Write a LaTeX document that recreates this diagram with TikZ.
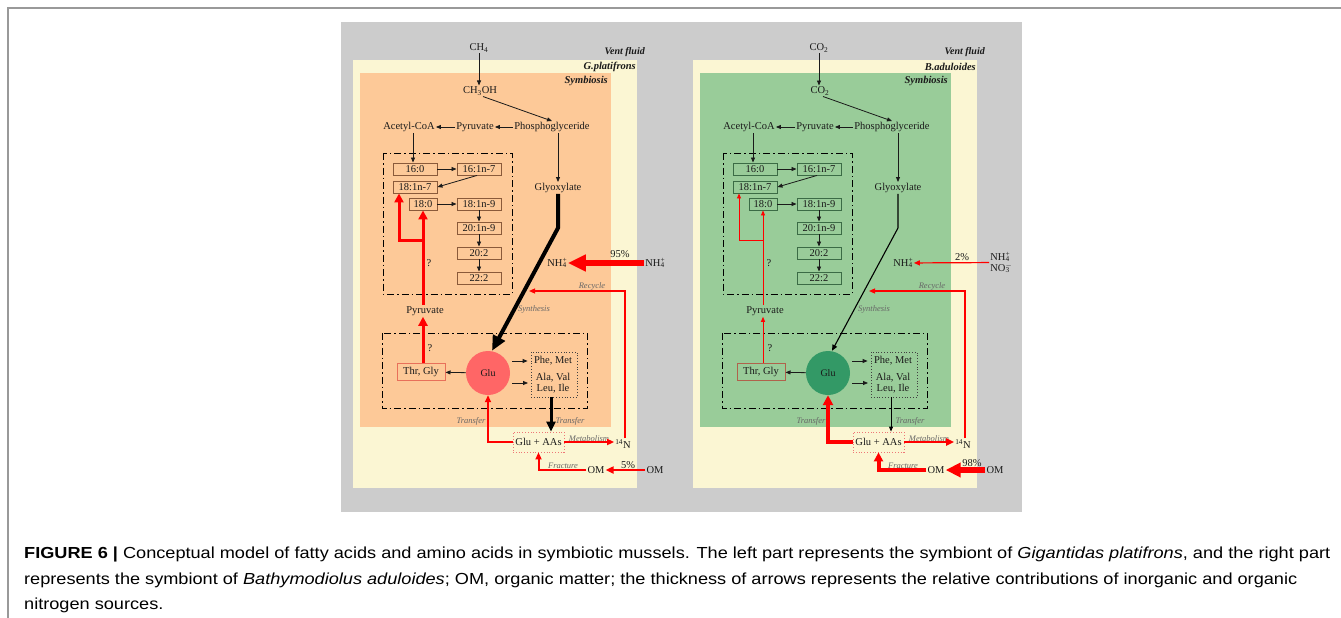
\documentclass[tikz,border=0pt]{standalone}
\usepackage{fontspec}
\setmainfont{Liberation Serif}
\newfontfamily\capfont{Liberation Sans}
\usepackage{graphicx}
\usetikzlibrary{arrows.meta,calc}
\definecolor{bgc}{HTML}{CCCCCC}
\definecolor{creamc}{HTML}{FBF6D3}
\definecolor{orangec}{HTML}{FDC998}
\definecolor{greenc}{HTML}{99CC99}
\definecolor{glured}{HTML}{FF6666}
\definecolor{glugreen}{HTML}{339966}
\definecolor{redc}{HTML}{FF0000}
\definecolor{brownc}{HTML}{8A5A3A}
\definecolor{dgreenc}{HTML}{3B6B45}
\definecolor{thrl}{HTML}{E8705A}
\definecolor{thrr}{HTML}{B0624C}
\definecolor{labc}{HTML}{666666}
\definecolor{gaac}{HTML}{EE7777}
\definecolor{framec}{HTML}{999999}
\definecolor{txtc}{HTML}{1A1A1A}
\definecolor{capc}{HTML}{222222}
\newcommand\fsz[1]{\fontsize{#1}{#1}\selectfont}
\newcommand\nhf{NH\rlap{\textsuperscript{+}}\textsubscript{4}}
\newcommand\nof{NO\rlap{\textsuperscript{$-$}}\textsubscript{3}}
\newsavebox\capA
\newsavebox\capB
\newsavebox\capC
\newdimen\capw
\tikzset{
 txt/.style={inner sep=1pt, text=txtc, font=\fsz{10.5}},
 lab/.style={inner sep=0pt, text=txtc, font=\fsz{10.5}\bfseries\itshape},
 ilab/.style={inner sep=0pt, text=labc, font=\fsz{8.5}\itshape},
 fabox/.style={boxdraw, line width=0.9pt, minimum width=44pt, minimum height=12pt, inner sep=0pt, text=txtc, font=\fsz{10.5}},
 sar/.style={draw=txtc, line width=0.8pt, -{Triangle[length=5pt,width=4pt]}},
 dd/.style={draw=black, line width=1pt, dash pattern=on 7pt off 3pt on 1.5pt off 3pt},
}
\newcommand\panel[4]{%
\fill[creamc] (353,60) rectangle (637,488);
\fill[panelfill] (360,73) rectangle (611,427);
\node[lab,anchor=east,font=\fsz{10}\bfseries\itshape] (#1-vent) at (645,52) {Vent fluid};
\node[lab,anchor=east] (#1-sp) at (636,67) {#4};
\node[lab,anchor=east] (#1-sym) at (608,81) {Symbiosis};
\node[txt] (#1-top) at (479,48) {#2};
\node[txt] (#1-sec) at (480,91) {#3};
\node[txt] (#1-phos) at (552,127) {Phosphoglyceride};
\node[txt] (#1-pyr) at (475,127) {Pyruvate};
\node[txt] (#1-acoa) at (409,127) {Acetyl-CoA};
\node[txt] (#1-glyox) at (558,188) {Glyoxylate};
\draw[dd] (383,153) rectangle (512,294);
\node[fabox] (#1-f160) at (415,169) {16:0};
\node[fabox] (#1-f161) at (479,169) {16:1n-7};
\node[fabox] (#1-f181) at (415,187) {18:1n-7};
\node[fabox,minimum width=28pt] (#1-f180) at (423,204) {18:0};
\node[fabox] (#1-f189) at (479,204) {18:1n-9};
\node[fabox] (#1-f201) at (479,228) {20:1n-9};
\node[fabox] (#1-f202) at (479,253) {20:2};
\node[fabox] (#1-f222) at (479,278) {22:2};
\node[txt] (#1-q1) at (429,263) {?};
\node[txt] (#1-pyr2) at (425,311) {Pyruvate};
\draw[dd] (382,333) rectangle (587,408);
\node[txt,thrdraw,line width=1pt,minimum width=48pt,minimum height=17pt] (#1-thr) at (421,372) {Thr, Gly};
\node[txt] (#1-q2) at (430,348) {?};
\node[circle,gluf,minimum size=44pt,inner sep=0pt,text=txtc,font=\fsz{10}] (#1-glu) at (488,373) {Glu};
\node[draw=black!75,dotted,line width=0.8pt,minimum width=46pt,minimum height=45pt,inner sep=0pt] (#1-aab) at (554,374.5) {};
\node[txt] (#1-phe) at (553,361) {Phe, Met};
\node[txt] (#1-ala) at (553,378) {Ala, Val};
\node[txt] (#1-leu) at (553,388.5) {Leu, Ile};
\node[txt,draw=gaac,dotted,line width=0.8pt,minimum width=51pt,minimum height=20pt] (#1-gaa) at (538.5,442) {Glu + AAs};
\node[txt] (#1-n14) at (623,444) {\textsuperscript{14}N};
\node[txt] (#1-om1) at (596,470) {OM};
\node[txt] (#1-om2) at (655,470) {OM};
\node[txt,nhinpos] (#1-nhin) at (557,263) {\nhf};
\node[ilab] (#1-lrec) at (592,286) {Recycle};
\node[ilab] (#1-lsyn) at (534,309) {Synthesis};
\node[ilab] (#1-ltr1) at (471,421) {Transfer};
\node[ilab] (#1-ltr2) at (570,421) {Transfer};
\node[ilab] (#1-lmet) at (589,439) {Metabolism};
\node[ilab] (#1-lfr) at (563,466) {Fracture};
\coordinate (#1-rec) at (529,291);
\coordinate (#1-br) at (423,240);
\coordinate (#1-a2) at (528,383);
\draw[sar] (#1-top.south) -- (#1-top.south |- #1-sec.north);
\draw[sar] ([xshift=3pt]#1-sec.south) -- (#1-phos.north);
\draw[sar] (#1-phos) -- (#1-pyr);
\draw[sar] (#1-pyr) -- (#1-acoa);
\draw[sar] ([xshift=4pt]#1-acoa.south) -- ([xshift=4pt]#1-acoa.south |- #1-f160.north);
\draw[sar] (#1-f160) -- (#1-f161);
\draw[sar] ([xshift=-2pt]#1-f161.south) -- (#1-f181.east);
\draw[sar] (#1-f180) -- (#1-f189);
\draw[sar] (#1-f189) -- (#1-f201);
\draw[sar] (#1-f201) -- (#1-f202);
\draw[sar] (#1-f202) -- (#1-f222);
\draw[sar] (#1-phos.south -| #1-glyox) -- (#1-glyox.north);
\draw[glyar] (#1-glyox.south) -- ++(0,34) -- ([xshift=4pt]#1-glu.north);
\draw[recar] ([xshift=2pt]#1-n14.north) |- (#1-rec);
\draw[pyrar] (#1-f180 |- #1-pyr2.north) -- (#1-f180.south);
\draw[pyrar] (#1-br) -| ([xshift=-16pt]#1-f181.south);
\draw[pyrar] (#1-thr.north -| #1-f180) -- (#1-f180 |- #1-pyr2.south);
\draw[sar] (#1-glu) -- (#1-thr);
\draw[sar] ([xshift=2pt]#1-glu.east |- #1-phe) -- ([xshift=-3pt]#1-aab.west |- #1-phe);
\draw[sar] ([xshift=2pt]#1-glu.east |- #1-a2) -- (#1-a2);
\draw[aa2g] ([xshift=-3pt]#1-aab.south) -- ([xshift=-3pt]#1-aab.south |- #1-gaa.north);
\draw[g2g] (#1-gaa.west) -| (#1-glu.south);
\draw[metar] (#1-gaa.east) -- (#1-gaa.east -| #1-n14.west);
\draw[omar] (#1-om2) -- (#1-om1);
\draw[frac] (#1-om1.west) -| (#1-gaa.south);
}
\begin{document}
\sbox\capA{\capfont\fsz{16}\textbf{FIGURE 6 |} Conceptual model of fatty acids and amino acids in symbiotic mussels. The left part represents the symbiont of \textit{Gigantidas platifrons}, and the right part}%
\sbox\capB{\capfont\fsz{16}represents the symbiont of \textit{Bathymodiolus aduloides}; OM, organic matter; the thickness of arrows represents the relative contributions of inorganic and organic}%
\sbox\capC{\capfont\fsz{16}nitrogen sources.}%
\capw=\wd\capA
\pgfmathsetmacro\capsc{1306/\capw}%
\begin{tikzpicture}[x=1pt,y=-1pt]
\useasboundingbox (0,0) rectangle (1341,618);
\fill[white] (0,0) rectangle (1341,618);
\draw[framec,line width=1.5pt] (8,618) -- (8,8) -- (1341,8);
\fill[bgc] (341,22) rectangle (1022,512);
\begin{scope}[
 panelfill/.style={fill=orangec}, boxdraw/.style={draw=brownc},
 gluf/.style={fill=glured}, thrdraw/.style={draw=thrl},
 pyrar/.style={draw=redc,line width=3pt,-{Triangle[length=9pt,width=9pt]}},
 glyar/.style={draw=black,line width=4pt,-{Triangle[length=15pt,width=13pt]}},
 nhar/.style={draw=redc,line width=6.5pt,-{Triangle[length=18pt,width=16pt]}},
 recar/.style={draw=redc,line width=1.2pt,-{Triangle[length=6pt,width=5pt]}},
 g2g/.style={draw=redc,line width=2pt,-{Triangle[length=7pt,width=6pt]}},
 aa2g/.style={draw=black,line width=3pt,-{Triangle[length=10pt,width=9pt]}},
 metar/.style={draw=redc,line width=2pt,-{Triangle[length=7pt,width=6pt]}},
 frac/.style={draw=redc,line width=2pt,-{Triangle[length=7pt,width=6pt]}},
 omar/.style={draw=redc,line width=2pt,-{Triangle[length=8pt,width=7pt]}},
 nhinpos/.style={}]
\panel{L}{CH\textsubscript{4}}{CH\textsubscript{3}OH}{G.platifrons}
\node[txt] (L-nhout) at (655,263) {\nhf};
\draw[nhar] (L-nhout) -- (L-nhin);
\node[txt] (L-p1) at (620,254) {95\%};
\node[txt] (L-p2) at (628,465) {5\%};
\end{scope}
\begin{scope}[xshift=340pt,
 panelfill/.style={fill=greenc}, boxdraw/.style={draw=dgreenc},
 gluf/.style={fill=glugreen}, thrdraw/.style={draw=thrr},
 pyrar/.style={draw=redc,line width=0.9pt,-{Triangle[length=5pt,width=4pt]}},
 glyar/.style={draw=black,line width=1.1pt,-{Triangle[length=6pt,width=5pt]}},
 nhar/.style={draw=redc,line width=1.2pt,-{Triangle[length=6pt,width=5pt]}},
 recar/.style={draw=redc,line width=1.2pt,-{Triangle[length=6pt,width=5pt]}},
 g2g/.style={draw=redc,line width=4.5pt,-{Triangle[length=10pt,width=10pt]}},
 aa2g/.style={draw=black,line width=0.9pt,-{Triangle[length=5pt,width=4pt]}},
 metar/.style={draw=redc,line width=2.5pt,-{Triangle[length=8pt,width=7pt]}},
 frac/.style={draw=redc,line width=4pt,-{Triangle[length=9pt,width=9pt]}},
 omar/.style={draw=redc,line width=6.5pt,-{Triangle[length=15pt,width=14pt]}},
 nhinpos/.style={xshift=6pt}]
\panel{R}{CO\textsubscript{2}}{CO\textsubscript{2}}{B.aduloides}
\node[txt,align=center] (R-nhout) at (660,262.5) {\nhf\\[0.5pt]\nof};
\draw[nhar] (R-nhout) -- (R-nhin);
\node[txt] (R-p1) at (622,257) {2\%};
\node[txt] (R-p2) at (632,463) {98\%};
\end{scope}
\node[anchor=base west,inner sep=0pt,text=capc] (cap1) at (24,558) {\scalebox{\capsc}[1]{\usebox\capA}};
\node[anchor=base west,inner sep=0pt,text=capc] (cap2) at (24,584) {\scalebox{\capsc}[1]{\usebox\capB}};
\node[anchor=base west,inner sep=0pt,text=capc] (cap3) at (24,609) {\scalebox{\capsc}[1]{\usebox\capC}};
\end{tikzpicture}
\end{document}
